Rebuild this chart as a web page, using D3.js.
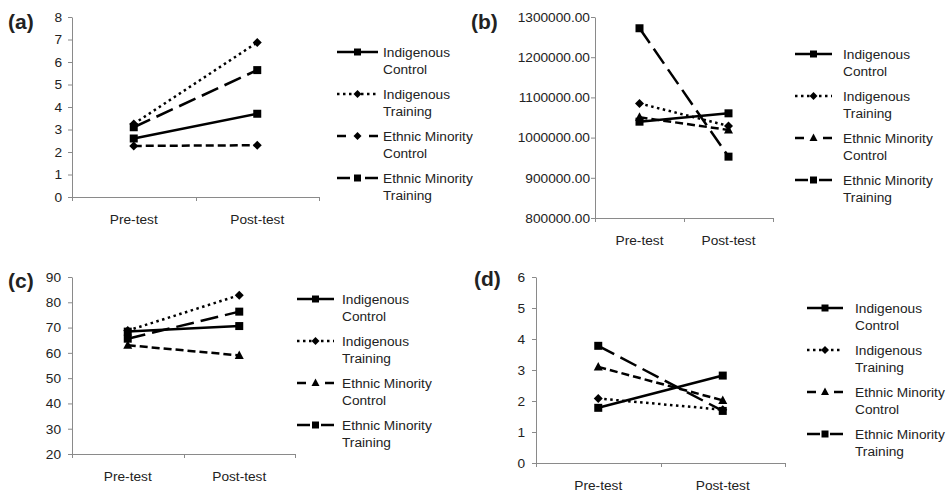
<!DOCTYPE html>
<html>
<head>
<meta charset="UTF-8">
<script src="https://d3js.org/d3.v7.min.js"></script>
<style>
  body { margin: 0; background: #fff; }
  text { font-family: "Liberation Sans", Arial, sans-serif; }
</style>
</head>
<body>
<script>
    // data
    var phases = ["Pre-test", "Post-test"];
    var groups = ["Indigenous Control", "Indigenous Training", "Ethnic Minority Control", "Ethnic Minority Training"];
    var legendRows = [["Indigenous", "Control"], ["Indigenous", "Training"], ["Ethnic Minority", "Control"], ["Ethnic Minority", "Training"]];

    // values per group: [pre, post]
    var valuesA = [[2.6, 3.7], [3.25, 6.87], [2.27, 2.3], [3.1, 5.64]];
    var valuesB = [[1039600, 1060400], [1085000, 1029000], [1050500, 1019000], [1272000, 952600]];
    var valuesC = [[68.4, 70.6], [68.8, 82.8], [63, 59], [65.6, 76.3]];
    var valuesD = [[1.78, 2.82], [2.08, 1.72], [3.1, 2.02], [3.78, 1.68]];

    var ticksA = [0, 1, 2, 3, 4, 5, 6, 7, 8];
    var ticksB = [800000, 900000, 1000000, 1100000, 1200000, 1300000];
    var ticksC = [20, 30, 40, 50, 60, 70, 80, 90];
    var ticksD = [0, 1, 2, 3, 4, 5, 6];

    var markersA = ["square", "diamond", "diamond", "square"];
    var markersBCD = ["square", "diamond", "triangle", "square"];

    // styles
    var dashes = [null, "2.5,3.5", "8,4", "18,7"];
    // legend samples: side dash length (0 = use line dashes)
    var legendSide = [0, 0, 9, 13];
    var axisColor = "#8a8a8a", textColor = "#222", fontSize = "13.7px";

    var svg = d3.select("body").append("svg")
        .attr("width", 949)
        .attr("height", 494);

    var panels = [
        { tag: "(a)", tagX: 8, tagY: 29, values: valuesA, ticks: ticksA, fmt: d3.format("d"), markers: markersA,
          x0: 72, x1: 319, yTop: 17, yBot: 197, labelGap: 10, lx: 337, ly: 52, lw: 41, tx: 383 },
        { tag: "(b)", tagX: 471, tagY: 29, values: valuesB, ticks: ticksB, fmt: d3.format(".2f"), markers: markersBCD,
          x0: 595, x1: 773, yTop: 17, yBot: 218, labelGap: 5, lx: 795, ly: 54, lw: 37, tx: 843 },
        { tag: "(c)", tagX: 8, tagY: 288, values: valuesC, ticks: ticksC, fmt: d3.format("d"), markers: markersBCD,
          x0: 72, x1: 295, yTop: 277, yBot: 454, labelGap: 11, lx: 297, ly: 299, lw: 37, tx: 342 },
        { tag: "(d)", tagX: 474, tagY: 286, values: valuesD, ticks: ticksD, fmt: d3.format("d"), markers: markersBCD,
          x0: 536, x1: 785, yTop: 277, yBot: 463, labelGap: 11, lx: 807, ly: 308, lw: 36, tx: 855 }
    ];

    function markerPath(type, size) {
        var s = size / 2;
        if (type === "square") return "M" + (-s) + "," + (-s) + "h" + size + "v" + size + "h" + (-size) + "Z";
        if (type === "diamond") return "M0," + (-s - 0.5) + "L" + (s + 0.5) + ",0L0," + (s + 0.5) + "L" + (-s - 0.5) + ",0Z";
        return "M0," + (-s - 1) + "L" + (s + 0.5) + "," + (s - 0.5) + "L" + (-s - 0.5) + "," + (s - 0.5) + "Z";
    }

    panels.forEach(function (p) {
        var g = svg.append("g");

        var x = d3.scaleBand().domain(phases).range([p.x0, p.x1]);
        var y = d3.scaleLinear().domain([p.ticks[0], p.ticks[p.ticks.length - 1]]).range([p.yBot, p.yTop]);

        // y axis
        var yAxis = g.append("g")
            .attr("transform", "translate(" + p.x0 + ",0)")
            .call(d3.axisLeft(y).tickValues(p.ticks).tickFormat(p.fmt).tickSize(4).tickSizeOuter(0).tickPadding(p.labelGap - 4));
        yAxis.selectAll("path, line").attr("stroke", axisColor);
        yAxis.selectAll("text").attr("fill", textColor).style("font-size", fontSize)
            .style("font-family", "'Liberation Sans', Arial, sans-serif");

        // x axis labels
        var xAxis = g.append("g")
            .attr("transform", "translate(0," + p.yBot + ")")
            .call(d3.axisBottom(x).tickSize(0).tickPadding(17));
        xAxis.select(".domain").remove();
        xAxis.selectAll("text").attr("fill", textColor).style("font-size", fontSize)
            .style("font-family", "'Liberation Sans', Arial, sans-serif");

        // x axis line with boundary ticks
        g.append("line")
            .attr("x1", p.x0).attr("x2", p.x1)
            .attr("y1", p.yBot + 0.5).attr("y2", p.yBot + 0.5)
            .attr("stroke", axisColor);
        g.selectAll(".xb")
            .data([p.x0, x(phases[1]), p.x1])
            .enter().append("line")
            .attr("x1", function (d) { return Math.round(d) + 0.5; })
            .attr("x2", function (d) { return Math.round(d) + 0.5; })
            .attr("y1", p.yBot).attr("y2", p.yBot + 4)
            .attr("stroke", axisColor);

        // lines
        var line = d3.line()
            .x(function (d, i) { return x(phases[i]) + x.bandwidth() / 2; })
            .y(function (d) { return y(d); });

        g.selectAll(".series")
            .data(p.values)
            .enter().append("path")
            .attr("d", line)
            .attr("fill", "none")
            .attr("stroke", "#000")
            .attr("stroke-width", 2.5)
            .attr("stroke-dasharray", function (d, i) { return dashes[i]; });

        p.values.forEach(function (vals, gi) {
            g.selectAll(".m" + gi)
                .data(vals)
                .enter().append("path")
                .attr("transform", function (d, i) {
                    return "translate(" + (x(phases[i]) + x.bandwidth() / 2) + "," + y(d) + ")";
                })
                .attr("d", markerPath(p.markers[gi], 8))
                .attr("fill", "#000");
        });

        // legend
        var leg = g.selectAll(".legend")
            .data(groups)
            .enter().append("g")
            .attr("transform", function (d, i) { return "translate(" + p.lx + "," + (p.ly + 42 * i) + ")"; });

        leg.append("line")
            .attr("x1", 0).attr("x2", p.lw)
            .attr("y1", 0).attr("y2", 0)
            .attr("stroke", "#000")
            .attr("stroke-width", 2.5)
            .attr("stroke-dasharray", function (d, i) {
                var s = legendSide[i];
                return s ? s + "," + (p.lw - 2 * s) + "," + s : dashes[i];
            });

        leg.append("path")
            .attr("transform", "translate(" + (p.lw / 2) + ",0)")
            .attr("d", function (d, i) { return markerPath(p.markers[i], 7); })
            .attr("fill", "#000");

        leg.each(function (d, i) {
            var t = d3.select(this).append("text")
                .attr("x", p.tx - p.lx)
                .attr("y", 5)
                .attr("fill", textColor)
                .style("font-size", fontSize);
            t.append("tspan").attr("x", p.tx - p.lx).attr("dy", 0).text(legendRows[i][0]);
            t.append("tspan").attr("x", p.tx - p.lx).attr("dy", 17).text(legendRows[i][1]);
        });

        // panel tag
        svg.append("text")
            .attr("x", p.tagX)
            .attr("y", p.tagY)
            .attr("fill", "#222")
            .style("font-size", "21px")
            .style("font-weight", "bold")
            .text(p.tag);
    });
</script>
</body>
</html>
